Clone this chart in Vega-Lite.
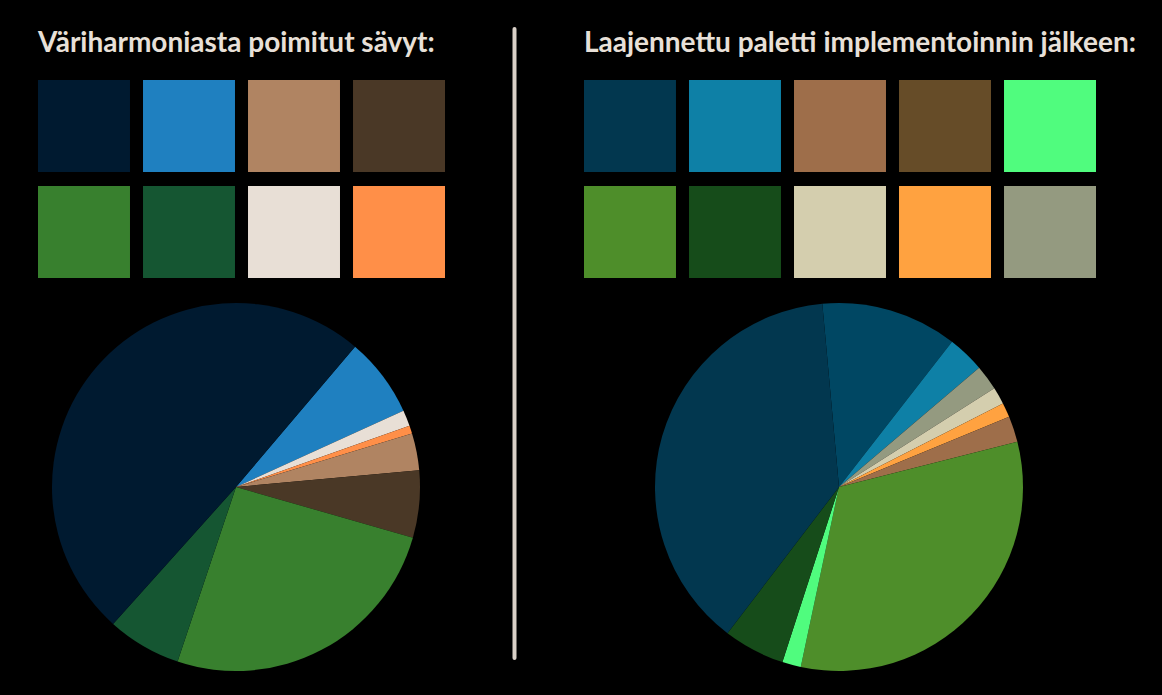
{
  "$schema": "https://vega.github.io/schema/vega-lite/v6.json",
  "background": "#000000",
  "padding": {"left": 38, "top": 27, "right": 25, "bottom": 26},
  "config": {
    "view": {"stroke": null},
    "concat": {"spacing": 67},
    "title": {"anchor": "start", "color": "#e8e0d8", "font": "Lato", "fontSize": 28, "fontWeight": "bold", "baseline": "alphabetic", "offset": 22}
  },
  "resolve": {"scale": {"color": "independent"}},
  "hconcat": [
    {
      "resolve": {"scale": {"color": "independent"}},
      "spacing": 25,
      "vconcat": [
        {
          "title": "Väriharmoniasta poimitut sävyt:",
          "width": 407,
          "height": 198,
          "data": {"values": [
            {"sävy": "tummansininen", "sarake": 1, "rivi": 1},
            {"sävy": "sininen", "sarake": 2, "rivi": 1},
            {"sävy": "vaaleanruskea", "sarake": 3, "rivi": 1},
            {"sävy": "tummanruskea", "sarake": 4, "rivi": 1},
            {"sävy": "vihreä", "sarake": 1, "rivi": 2},
            {"sävy": "tummanvihreä", "sarake": 2, "rivi": 2},
            {"sävy": "kerma", "sarake": 3, "rivi": 2},
            {"sävy": "oranssi", "sarake": 4, "rivi": 2}
          ]},
          "mark": {"type": "rect"},
          "encoding": {
            "x": {"field": "sarake", "type": "ordinal", "axis": null, "scale": {"paddingInner": 0.124, "paddingOuter": 0}},
            "y": {"field": "rivi", "type": "ordinal", "axis": null, "scale": {"paddingInner": 0.132, "paddingOuter": 0}},
            "color": {"field": "sävy", "type": "nominal", "legend": null, "scale": {
              "domain": ["tummansininen", "sininen", "vaaleanruskea", "tummanruskea", "vihreä", "tummanvihreä", "kerma", "oranssi"],
              "range": ["#001a30", "#1f80c0", "#b08462", "#4a3826", "#38802e", "#155632", "#e8dfd6", "#ff8f48"]}}
          }
        },
        {
          "width": 396,
          "height": 368,
          "data": {"values": [
            {"sävy": "sininen", "nro": 1, "osuus": 7.0},
            {"sävy": "kerma", "nro": 2, "osuus": 1.4},
            {"sävy": "oranssi", "nro": 3, "osuus": 0.7},
            {"sävy": "vaaleanruskea", "nro": 4, "osuus": 3.25},
            {"sävy": "tummanruskea", "nro": 5, "osuus": 5.9},
            {"sävy": "vihreä", "nro": 6, "osuus": 25.7},
            {"sävy": "tummanvihreä", "nro": 7, "osuus": 6.5},
            {"sävy": "tummansininen", "nro": 8, "osuus": 49.55}
          ]},
          "mark": {"type": "arc", "stroke": null},
          "encoding": {
            "theta": {"field": "osuus", "type": "quantitative", "stack": true, "scale": {"range": [0.7034, 6.9866]}},
            "order": {"field": "nro", "type": "quantitative"},
            "color": {"field": "sävy", "type": "nominal", "legend": null, "scale": {
              "domain": ["tummansininen", "sininen", "vaaleanruskea", "tummanruskea", "vihreä", "tummanvihreä", "kerma", "oranssi"],
              "range": ["#001a30", "#1f80c0", "#b08462", "#4a3826", "#38802e", "#155632", "#e8dfd6", "#ff8f48"]}}
          }
        }
      ]
    },
    {
      "width": 5,
      "height": 578,
      "data": {"values": [{"alku": 0, "loppu": 1}]},
      "mark": {"type": "rule", "color": "#dad1c8", "strokeWidth": 4, "strokeCap": "round"},
      "encoding": {
        "y": {"field": "alku", "type": "quantitative", "axis": null, "scale": {"domain": [0, 1], "range": [578, -51]}},
        "y2": {"field": "loppu"}
      }
    },
    {
      "resolve": {"scale": {"color": "independent"}},
      "spacing": 25,
      "vconcat": [
        {
          "title": "Laajennettu paletti implementoinnin jälkeen:",
          "width": 512,
          "height": 198,
          "data": {"values": [
            {"sävy": "tummansininen", "sarake": 1, "rivi": 1},
            {"sävy": "turkoosi", "sarake": 2, "rivi": 1},
            {"sävy": "ruskea", "sarake": 3, "rivi": 1},
            {"sävy": "tummanruskea", "sarake": 4, "rivi": 1},
            {"sävy": "kirkkaanvihreä", "sarake": 5, "rivi": 1},
            {"sävy": "vihreä", "sarake": 1, "rivi": 2},
            {"sävy": "tummanvihreä", "sarake": 2, "rivi": 2},
            {"sävy": "kerma", "sarake": 3, "rivi": 2},
            {"sävy": "oranssi", "sarake": 4, "rivi": 2},
            {"sävy": "harmaa", "sarake": 5, "rivi": 2}
          ]},
          "mark": {"type": "rect"},
          "encoding": {
            "x": {"field": "sarake", "type": "ordinal", "axis": null, "scale": {"paddingInner": 0.124, "paddingOuter": 0}},
            "y": {"field": "rivi", "type": "ordinal", "axis": null, "scale": {"paddingInner": 0.132, "paddingOuter": 0}},
            "color": {"field": "sävy", "type": "nominal", "legend": null, "scale": {
              "domain": ["tummansininen", "sininen", "turkoosi", "ruskea", "tummanruskea", "kirkkaanvihreä", "vihreä", "tummanvihreä", "kerma", "oranssi", "harmaa"],
              "range": ["#02374f", "#004763", "#0e80a6", "#9e6e4a", "#664c28", "#50fc7e", "#4e8e2a", "#164c1a", "#d4ceae", "#ffa240", "#949a80"]}}
          }
        },
        {
          "width": 510,
          "height": 368,
          "data": {"values": [
            {"sävy": "sininen", "nro": 1, "osuus": 11.97},
            {"sävy": "turkoosi", "nro": 2, "osuus": 3.25},
            {"sävy": "harmaa", "nro": 3, "osuus": 2.22},
            {"sävy": "kerma", "nro": 4, "osuus": 1.5},
            {"sävy": "oranssi", "nro": 5, "osuus": 1.28},
            {"sävy": "ruskea", "nro": 6, "osuus": 2.28},
            {"sävy": "vihreä", "nro": 7, "osuus": 32.28},
            {"sävy": "kirkkaanvihreä", "nro": 8, "osuus": 1.64},
            {"sävy": "tummanvihreä", "nro": 9, "osuus": 5.39},
            {"sävy": "tummansininen", "nro": 10, "osuus": 38.19}
          ]},
          "mark": {"type": "arc", "stroke": null},
          "encoding": {
            "theta": {"field": "osuus", "type": "quantitative", "stack": true, "scale": {"range": [-0.0908, 6.1924]}},
            "order": {"field": "nro", "type": "quantitative"},
            "color": {"field": "sävy", "type": "nominal", "legend": null, "scale": {
              "domain": ["tummansininen", "sininen", "turkoosi", "ruskea", "tummanruskea", "kirkkaanvihreä", "vihreä", "tummanvihreä", "kerma", "oranssi", "harmaa"],
              "range": ["#02374f", "#004763", "#0e80a6", "#9e6e4a", "#664c28", "#50fc7e", "#4e8e2a", "#164c1a", "#d4ceae", "#ffa240", "#949a80"]}}
          }
        }
      ]
    }
  ]
}
